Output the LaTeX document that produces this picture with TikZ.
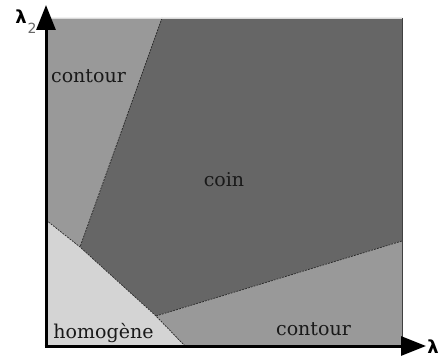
\documentclass[tikz,border=0pt]{standalone}
\usepackage{fontspec}
\setmainfont{DejaVu Serif}
\newfontfamily\lamfont{DejaVu Sans}
\usetikzlibrary{arrows.meta}
\definecolor{cContour}{HTML}{999999}
\definecolor{cCoin}{HTML}{666666}
\definecolor{cHomog}{HTML}{D4D4D4}
\begin{document}
\begin{tikzpicture}[x=1pt,y=-1pt,
  border/.style={line width=0.7pt, black!85, dash pattern=on 2pt off 1pt},
  lbl/.style={font=\fontsize{19}{19}\selectfont, anchor=base, inner sep=0pt, text=black!90},
  axis/.style={line width=3pt, -{Triangle[length=25pt,width=19pt]}}]
\useasboundingbox (0,0) rectangle (440,361);
% corner coordinates
\coordinate (TL) at (46,18);
\coordinate (TR) at (402,18);
\coordinate (BR) at (402,346);
\coordinate (BL) at (46,346);
\coordinate (A) at (162,18);
\coordinate (B) at (80,247);
\coordinate (C) at (46,220);
\coordinate (D) at (156,316);
\coordinate (E) at (185,346);
\coordinate (F) at (402,241);
% regions
\fill[cContour] (TL) -- (A) -- (B) -- (C) -- cycle;
\fill[cCoin] (A) -- (TR) -- (F) -- (D) -- (B) -- cycle;
\fill[cHomog] (C) -- (B) -- (D) -- (E) -- (BL) -- cycle;
\fill[cContour] (D) -- (F) -- (BR) -- (E) -- cycle;
% boundaries
\draw[border] (A) -- (B);
\draw[border] (C) -- (B) -- (D) -- (E);
\draw[border] (D) -- (F);
\draw[black!15, line width=0.8pt] (TL) -- (TR);
\draw[black!75, line width=1pt] (TR) -- (BR);
% axes
\coordinate (O) at (46,346);
\coordinate (Ytip) at (46,5);
\coordinate (Xtip) at (426,346);
\draw[axis] (O) -- (Ytip);
\draw[axis] ([xshift=-1.5pt]O) -- (Xtip);
% labels
\node[lbl] (l1) at (88.5,83) {contour};
\node[lbl] (l2) at (224,187) {coin};
\node[lbl] (l3) at (313.5,335) {contour};
\node[lbl] (l4) at (103.5,338) {homogène};
\node[font=\lamfont\bfseries\fontsize{18}{18}\selectfont, inner sep=0pt] (ly) at (21,17) {λ};
\node[font=\lamfont\fontsize{14}{14}\selectfont, inner sep=0pt, text=black!60] (ly2) at (32,28) {2};
\node[font=\lamfont\bfseries\fontsize{18}{18}\selectfont, inner sep=0pt] (lx) at (433,347) {λ};
\end{tikzpicture}
\end{document}
